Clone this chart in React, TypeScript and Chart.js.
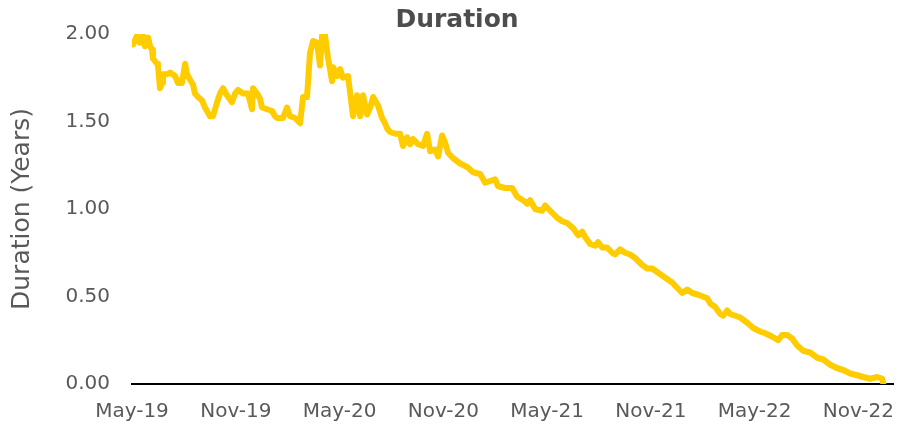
import React, { useEffect, useRef } from "react";
import { Chart, registerables } from "chart.js";

Chart.register(...registerables);

// Months elapsed since the start of May 2019
const monthOffsets: number[] = [
  0.06, 0.29, 0.46, 0.64, 0.75, 0.93, 1.04, 1.16, 1.21, 1.45, 1.5, 1.62, 1.74, 1.79, 2.02, 2.2, 2.49, 2.66, 2.89,
  3.07, 3.18, 3.35, 3.53, 3.64, 3.82, 4.05, 4.22, 4.51, 4.68, 4.92, 5.09, 5.26, 5.49, 5.78, 5.96, 6.13, 6.42,
  6.71, 6.94, 7.0, 7.23, 7.4, 7.52, 7.81, 8.1, 8.27, 8.39, 8.73, 8.96, 9.14, 9.43, 9.72, 9.89, 10.12, 10.29,
  10.47, 10.7, 10.87, 10.99, 11.16, 11.34, 11.57, 11.63, 11.86, 12.03, 12.2, 12.49, 12.78, 13.01, 13.19, 13.36,
  13.59, 13.77, 13.94, 14.23, 14.46, 14.63, 14.75, 14.92, 15.21, 15.5, 15.67, 15.9, 16.08, 16.25, 16.54, 16.83,
  17.06, 17.24, 17.52, 17.7, 17.93, 18.1, 18.28, 18.57, 18.97, 19.38, 19.72, 20.13, 20.42, 20.71, 20.99, 21.17,
  21.57, 21.98, 22.27, 22.61, 22.85, 23.02, 23.31, 23.71, 23.89, 24.18, 24.58, 24.87, 25.16, 25.51, 25.8, 26.03,
  26.2, 26.49, 26.78, 26.95, 27.18, 27.47, 27.76, 27.93, 28.22, 28.51, 28.8, 29.09, 29.5, 29.79, 30.08, 30.36,
  30.65, 30.94, 31.23, 31.52, 31.81, 32.1, 32.39, 32.74, 33.26, 33.43, 33.72, 34.01, 34.18, 34.41, 34.59, 34.88,
  35.16, 35.57, 35.92, 36.32, 36.61, 37.02, 37.36, 37.59, 37.88, 38.17, 38.46, 38.81, 39.21, 39.62, 39.97,
  40.37, 40.78, 41.12, 41.53, 41.93, 42.28, 42.68, 43.09, 43.38, 43.44,
];

// Duration in years
const durationYears: number[] = [
  1.94, 1.99, 1.95, 1.99, 1.93, 1.98, 1.93, 1.91, 1.86, 1.83, 1.82, 1.69, 1.72, 1.77, 1.77, 1.78, 1.76, 1.72, 1.72,
  1.83, 1.77, 1.74, 1.71, 1.66, 1.64, 1.62, 1.58, 1.53, 1.53, 1.61, 1.66, 1.69, 1.65, 1.61, 1.66, 1.68, 1.66,
  1.66, 1.57, 1.69, 1.66, 1.63, 1.58, 1.57, 1.56, 1.53, 1.52, 1.52, 1.58, 1.53, 1.52, 1.49, 1.64, 1.64, 1.89,
  1.96, 1.95, 1.82, 1.99, 1.99, 1.86, 1.73, 1.81, 1.76, 1.8, 1.75, 1.76, 1.53, 1.65, 1.53, 1.65,
  1.54, 1.58, 1.64, 1.59, 1.52, 1.49, 1.46, 1.44, 1.43, 1.43, 1.36, 1.41, 1.37, 1.4, 1.37, 1.36,
  1.43, 1.33, 1.34, 1.3, 1.42, 1.38, 1.32, 1.29, 1.26, 1.24, 1.21, 1.2, 1.15, 1.16, 1.17, 1.13,
  1.12, 1.12, 1.07, 1.05, 1.03, 1.05, 1.0, 0.99, 1.02, 0.99, 0.95, 0.93, 0.92, 0.89, 0.85, 0.87,
  0.84, 0.8, 0.79, 0.81, 0.78, 0.78, 0.75, 0.74, 0.77, 0.75, 0.74, 0.72, 0.68, 0.66, 0.66, 0.64,
  0.62, 0.6, 0.58, 0.55, 0.52, 0.54, 0.52, 0.51, 0.49, 0.46, 0.44, 0.4, 0.39, 0.42, 0.4, 0.39,
  0.38, 0.35, 0.32, 0.3, 0.29, 0.27, 0.25, 0.28, 0.28, 0.26, 0.22, 0.19, 0.18, 0.15, 0.14,
  0.11, 0.09, 0.08, 0.06, 0.05, 0.04, 0.03, 0.04, 0.03, 0.0,
];

const xTickMonths: number[] = [0, 6, 12, 18, 24, 30, 36, 42];
const xTickLabels: string[] = ["May-19", "Nov-19", "May-20", "Nov-20", "May-21", "Nov-21", "May-22", "Nov-22"];

const FONT = "'DejaVu Sans', sans-serif";
const GREY = "#595959";

export default function App() {
  const ref = useRef<HTMLCanvasElement | null>(null);

  useEffect(() => {
    if (!ref.current) return;
    const points = monthOffsets.map((m, i) => ({ x: m, y: durationYears[i] }));
    const chart = new Chart(ref.current, {
      type: "line",
      data: {
        datasets: [
          {
            label: "Duration",
            data: points,
            borderColor: "#FFCC00",
            backgroundColor: "#FFCC00",
            borderWidth: 6,
            pointRadius: 0,
            tension: 0,
            borderJoinStyle: "round",
            borderCapStyle: "round",
          },
        ],
      },
      options: {
        animation: false,
        responsive: true,
        maintainAspectRatio: false,
        layout: { padding: 0 },
        plugins: {
          legend: { display: false },
          tooltip: { enabled: false },
          title: {
            display: true,
            text: "Duration",
            color: "#4d4d4d",
            font: { family: FONT, size: 25, weight: "bold", lineHeight: 1.12 },
            padding: { top: 5, bottom: 0 },
          },
        },
        scales: {
          x: {
            type: "linear",
            min: 0,
            max: 44,
            afterBuildTicks: (axis: any) => {
              axis.ticks = xTickMonths.map((v) => ({ value: v }));
            },
            afterFit: (axis: any) => {
              axis.height = 42;
            },
            ticks: {
              autoSkip: false,
              maxRotation: 0,
              minRotation: 0,
              padding: 16,
              color: GREY,
              font: { family: FONT, size: 20 },
              callback: (_v: any, i: number) => xTickLabels[i],
            },
            grid: { display: false, drawTicks: false },
            border: { display: true, color: "#000000", width: 2 },
          },
          y: {
            min: 0,
            max: 2,
            afterFit: (axis: any) => {
              axis.width = 132;
            },
            ticks: {
              stepSize: 0.5,
              padding: 22,
              color: GREY,
              font: { family: FONT, size: 20 },
              callback: (v: any) => Number(v).toFixed(2),
            },
            grid: { display: false, drawTicks: false },
            border: { display: false },
            title: {
              display: true,
              text: "Duration (Years)",
              color: GREY,
              font: { family: FONT, size: 25 },
              padding: { top: 7, bottom: 0 },
            },
          },
          yRight: {
            type: "linear",
            position: "right",
            min: 0,
            max: 2,
            afterFit: (axis: any) => {
              axis.width = 21;
            },
            ticks: { display: false },
            grid: { display: false, drawTicks: false },
            border: { display: false },
          },
        },
      },
    });
    return () => chart.destroy();
  }, []);

  return (
    <div style={{ position: "fixed", left: 0, top: 0, width: 914, height: 426, background: "#ffffff" }}>
      <canvas ref={ref} />
    </div>
  );
}
